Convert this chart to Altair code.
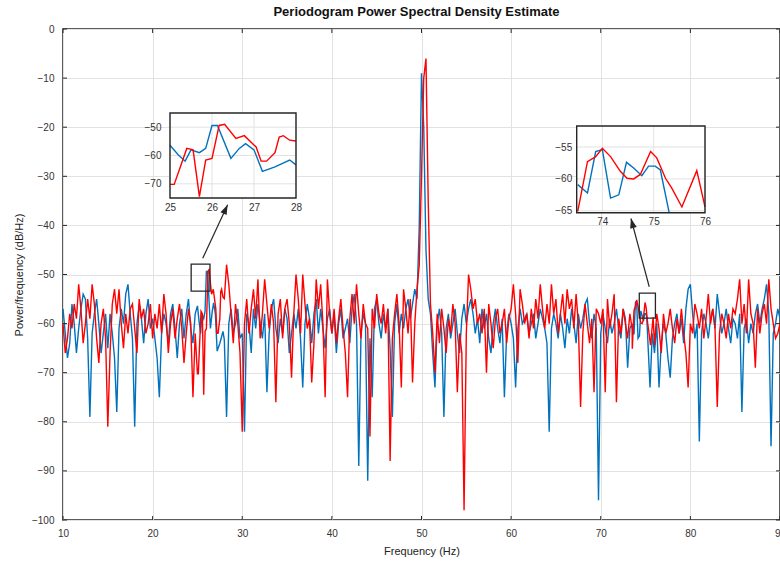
import altair as alt
import pandas as pd

# ---------------- data ----------------
F_START = 10.0
F_STEP = 0.25

blue_db = [
    -57, -62, -67, -64, -56, -60, -66, -61, -57, -54, -55, -63, -79, -62, -58, -55, -60, -66, -62, -58,
    -65, -58, -62, -67, -78, -61, -57, -60, -54, -52, -58, -63, -81, -60, -56, -59, -64, -58, -55, -61,
    -59, -63, -67, -75, -62, -58, -60, -64, -58, -56, -61, -67, -60, -57, -63, -58, -55, -61, -64, -58,
    -56, -60, -62, -58, -49, -55, -61, -57, -58, -65, -64, -62, -63, -79, -60, -57, -62, -60, -57, -63,
    -62, -82, -58, -60, -66, -57, -61, -56, -60, -63, -58, -74, -62, -57, -55, -61, -64, -59, -62, -57,
    -59, -66, -62, -58, -61, -57, -63, -73, -60, -56, -59, -64, -58, -55, -62, -57, -61, -65, -59, -57,
    -62, -58, -66, -60, -57, -63, -61, -59, -64, -57, -54, -60, -89, -62, -58, -60, -92, -63, -75, -57,
    -55, -60, -63, -58, -61, -57, -65, -79, -60, -56, -62, -58, -61, -57, -55, -59, -56, -53, -55, -40,
    -9, -20, -45, -55, -58, -66, -73, -60, -57, -62, -79, -61, -58, -63, -60, -57, -62, -66, -59, -56,
    -60, -57, -55, -58, -62, -59, -64, -57, -61, -58, -63, -66, -60, -57, -61, -64, -59, -75, -62, -58,
    -60, -63, -73, -61, -57, -60, -59, -58, -62, -60, -58, -63, -60, -57, -59, -61, -64, -82, -61, -58,
    -60, -63, -58, -61, -65, -59, -62, -57, -60, -64, -58, -61, -59, -56, -55, -60, -63, -58, -61, -96,
    -62, -58, -61, -64, -59, -62, -60, -57, -61, -63, -57, -59, -69, -61, -60, -58, -55, -63, -57, -59,
    -58, -64, -73, -62, -66, -60, -73, -64, -60, -62, -67, -71, -63, -60, -58, -62, -59, -64, -57, -53,
    -52, -58, -63, -60, -84, -62, -58, -60, -63, -59, -57, -61, -54, -58, -62, -60, -57, -61, -64, -59,
    -60, -63, -58, -78, -61, -59, -64, -60, -62, -58, -56, -60, -57, -55, -52, -58, -85, -62, -60, -57, -59,
]

red_db = [
    -60, -66, -63, -58, -61, -56, -59, -52, -57, -64, -60, -55, -59, -52, -56, -63, -68, -60, -57, -63,
    -81, -66, -56, -53, -58, -53, -60, -65, -58, -62, -57, -56, -61, -66, -55, -59, -57, -62, -60, -56,
    -63, -58, -61, -56, -62, -54, -58, -66, -60, -57, -63, -59, -56, -61, -68, -62, -57, -60, -75, -62,
    -70, -60, -58, -72, -61, -49, -54, -53, -57, -62, -59, -53, -55, -48, -52, -58, -64, -56, -60, -66,
    -82, -60, -55, -62, -57, -53, -59, -51, -63, -58, -51, -56, -61, -56, -60, -76, -58, -55, -63, -57,
    -55, -60, -71, -58, -50, -55, -62, -50, -56, -61, -59, -72, -64, -51, -57, -52, -60, -75, -51, -58,
    -62, -57, -64, -59, -55, -61, -66, -75, -59, -54, -60, -52, -58, -63, -56, -60, -61, -83, -57, -61,
    -54, -58, -60, -56, -62, -57, -88, -63, -58, -54, -60, -73, -53, -57, -62, -55, -72, -60, -53, -48,
    -30, -10, -6, -35, -56, -62, -70, -58, -64, -57, -61, -66, -59, -62, -56, -60, -74, -62, -66, -98,
    -62, -50, -53, -57, -55, -60, -58, -62, -57, -70, -56, -60, -65, -59, -57, -62, -60, -57, -64, -59,
    -57, -52, -58, -68, -53, -56, -60, -58, -63, -57, -61, -55, -59, -52, -57, -61, -56, -60, -52, -58,
    -55, -62, -58, -54, -60, -53, -57, -55, -61, -54, -60, -77, -62, -56, -60, -64, -59, -74, -57, -58,
    -60, -57, -74, -55, -61, -58, -54, -76, -59, -62, -57, -60, -63, -58, -61, -57, -55, -58, -60, -57,
    -56, -60, -64, -60, -64, -58, -61, -66, -58, -62, -60, -57, -61, -64, -59, -62, -57, -62, -66, -73,
    -60, -62, -56, -58, -61, -57, -63, -59, -54, -60, -57, -61, -77, -62, -58, -60, -63, -58, -61, -57,
    -58, -55, -51, -60, -56, -62, -51, -58, -60, -69, -57, -62, -58, -56, -60, -51, -57, -60, -63, -62, -60,
]

# inset 1 detail (25-28 Hz)
in1_blue_f = [25.0, 25.2, 25.36, 25.5, 25.7, 25.85, 26.0, 26.13, 26.45, 26.65, 26.8, 27.0, 27.2, 27.5, 27.85, 28.0]
in1_blue_db = [-56.4, -59.8, -62.0, -58.0, -59.0, -57.5, -49.4, -49.4, -61.0, -57.5, -55.8, -58.0, -65.6, -64.0, -61.6, -63.3]
in1_red_f = [25.0, 25.1, 25.4, 25.55, 25.7, 25.85, 26.0, 26.17, 26.3, 26.57, 26.77, 27.05, 27.17, 27.3, 27.5, 27.6, 27.7, 27.85, 28.0]
in1_red_db = [-70.2, -70.2, -57.5, -58.0, -74.5, -61.6, -61.0, -49.4, -49.0, -54.0, -53.0, -57.0, -62.0, -62.0, -59.0, -53.5, -53.0, -54.6, -54.9]

# inset 2 detail (73.5-76 Hz)
in2_blue_f = [73.52, 73.71, 73.87, 74.0, 74.16, 74.32, 74.47, 74.61, 74.77, 74.9, 75.03, 75.13, 75.3]
in2_blue_db = [-60.9, -62.2, -55.7, -55.4, -63.0, -62.5, -57.4, -58.3, -59.5, -58.0, -58.0, -58.6, -65.2]
in2_red_f = [73.52, 73.71, 73.87, 74.0, 74.16, 74.35, 74.48, 74.61, 74.74, 74.94, 75.06, 75.23, 75.35, 75.55, 75.84, 76.0]
in2_red_db = [-65.1, -57.3, -56.5, -55.2, -56.5, -58.8, -59.9, -60.0, -59.3, -55.7, -56.7, -59.9, -61.4, -64.4, -58.7, -64.4]

# annotation boxes and arrows (data coordinates)
box_f = [24.3, 74.3]
box_f2 = [26.4, 76.1]
box_db = [-53.4, -58.9]
box_db2 = [-47.9, -53.8]
arrow_f = [25.59, 75.41]
arrow_db = [-46.7, -52.5]
arrow_f2 = [28.37, 73.37]
arrow_db2 = [-35.8, -38.6]
arrow_angle = [25, 345]

x_ticks = [10, 20, 30, 40, 50, 60, 70, 80, 90]
y_ticks = [0, -10, -20, -30, -40, -50, -60, -70, -80, -90, -100]
in1_x_ticks = [25, 26, 27, 28]
in1_y_ticks = [-70, -60, -50]
in2_x_ticks = [74, 75, 76]
in2_y_ticks = [-65, -60, -55]

# ---------------- layout constants ----------------
W, H = 717, 491
FONT = "Liberation Sans"
AX = "#262626"
BLUE = "#0072BD"
RED = "#FF0000"
IN1 = dict(dom_x=[25, 28], dom_y=[-75, -45], px_x=[107, 233], px_y=[169, 84])
IN2 = dict(dom_x=[73.5, 76], dom_y=[-65.3, -51.7], px_x=[513.7, 642], px_y=[183.7, 97])


def merged(vals, det_f_list, det_v_list):
    ranges = [(min(fl), max(fl)) for fl in det_f_list]
    rows = []
    for i, v in enumerate(vals):
        f = F_START + F_STEP * i
        if any(lo <= f <= hi for lo, hi in ranges):
            continue
        rows.append((f, v))
    for fl, vl in zip(det_f_list, det_v_list):
        rows += list(zip(fl, vl))
    rows.sort()
    return pd.DataFrame(rows, columns=["f", "db"])


blue_df = merged(blue_db, [in1_blue_f, in2_blue_f], [in1_blue_db, in2_blue_db])
red_df = merged(red_db, [in1_red_f, in2_red_f], [in1_red_db, in2_red_db])

# ---------------- main panel ----------------
X_MAIN = alt.X(
    "f:Q",
    scale=alt.Scale(domain=[10, 90], nice=False, zero=False),
    axis=alt.Axis(values=x_ticks, title="Frequency (Hz)", grid=True, gridColor="#e2e2e2",
                  gridWidth=1, ticks=False, tickSize=0, domain=False, labelPadding=8,
                  labelFontSize=10, titleFontSize=11, titlePadding=7, labelFlush=False,
                  labelOverlap=False),
)
Y_MAIN = alt.Y(
    "db:Q",
    scale=alt.Scale(domain=[-100, 0], nice=False, zero=False),
    axis=alt.Axis(values=y_ticks, title="Power/frequency (dB/Hz)", grid=True, gridColor="#e2e2e2",
                  gridWidth=1, ticks=False, tickSize=0, domain=False, labelPadding=9,
                  labelFontSize=10, titleFontSize=11, titlePadding=7, labelFlush=False,
                  labelOverlap=False),
)

blue_line = alt.Chart(blue_df).mark_line(color=BLUE, strokeWidth=1.4).encode(x=X_MAIN, y=Y_MAIN)
red_line = alt.Chart(red_df).mark_line(color=RED, strokeWidth=1.4).encode(x=X_MAIN, y=Y_MAIN)

xt_df = pd.DataFrame({"f": x_ticks})
yt_df = pd.DataFrame({"db": y_ticks})
tick_b = alt.Chart(xt_df).mark_rule(color=AX, strokeWidth=1).encode(
    x=X_MAIN, y=alt.value(H), y2=alt.value(H - 4))
tick_t = alt.Chart(xt_df).mark_rule(color=AX, strokeWidth=1).encode(
    x=X_MAIN, y=alt.value(0), y2=alt.value(4))
tick_l = alt.Chart(yt_df).mark_rule(color=AX, strokeWidth=1).encode(
    y=Y_MAIN, x=alt.value(0), x2=alt.value(4))
tick_r = alt.Chart(yt_df).mark_rule(color=AX, strokeWidth=1).encode(
    y=Y_MAIN, x=alt.value(W), x2=alt.value(W - 4))

box_df = pd.DataFrame({"f": box_f, "f2": box_f2, "db": box_db, "db2": box_db2})
boxes = alt.Chart(box_df).mark_rect(fillOpacity=0, stroke=AX, strokeWidth=1.3).encode(
    x=X_MAIN, x2=alt.X2("f2:Q"), y=Y_MAIN, y2=alt.Y2("db2:Q"))

arr_df = pd.DataFrame({"f": arrow_f, "db": arrow_db, "f2": arrow_f2, "db2": arrow_db2,
                       "angle": arrow_angle})
arrow_lines = alt.Chart(arr_df).mark_rule(color=AX, strokeWidth=1.2).encode(
    x=X_MAIN, y=Y_MAIN, x2=alt.X2("f2:Q"), y2=alt.Y2("db2:Q"))
head_df = pd.DataFrame({"f": arrow_f2, "db": arrow_db2, "angle": arrow_angle})
arrow_heads = alt.Chart(head_df).mark_point(
    shape="M0,0L-0.35,1L0.35,1Z", filled=True, color=AX, opacity=1, size=380
).encode(x=X_MAIN, y=Y_MAIN, angle=alt.Angle("angle:Q", scale=None))

main = alt.layer(blue_line, red_line, tick_b, tick_t, tick_l, tick_r, boxes, arrow_lines, arrow_heads)


# ---------------- insets ----------------
def inset(cfg, bf, bv, rf, rv, xt, yt, ylabpad):
    X = alt.X("f:Q", scale=alt.Scale(domain=cfg["dom_x"], range=cfg["px_x"], nice=False, zero=False),
              axis=alt.Axis(orient="bottom", offset=cfg["px_y"][0] - H, values=xt, grid=False,
                            ticks=False, tickSize=0, domain=False, labelPadding=4, labelFontSize=10,
                            labelFlush=False, labelOverlap=False, title=None))
    Y = alt.Y("db:Q", scale=alt.Scale(domain=cfg["dom_y"], range=cfg["px_y"], nice=False, zero=False),
              axis=alt.Axis(orient="left", offset=-cfg["px_x"][0], values=yt, grid=False,
                            ticks=False, tickSize=0, domain=False, labelPadding=ylabpad,
                            labelFontSize=10, labelFlush=False, labelOverlap=False, title=None))
    frame_df = pd.DataFrame({"f": [cfg["dom_x"][0]], "f2": [cfg["dom_x"][1]],
                             "db": [cfg["dom_y"][0]], "db2": [cfg["dom_y"][1]]})
    bg = alt.Chart(frame_df).mark_rect(fill="white", strokeWidth=0).encode(
        x=X, x2=alt.X2("f2:Q"), y=Y, y2=alt.Y2("db2:Q"))
    vg_df = pd.DataFrame({"f": xt, "db": cfg["dom_y"][0], "db2": cfg["dom_y"][1]})
    hg_df = pd.DataFrame({"db": yt, "f": cfg["dom_x"][0], "f2": cfg["dom_x"][1]})
    vgrid = alt.Chart(vg_df).mark_rule(color="#e2e2e2", strokeWidth=1).encode(
        x=X, y=Y, y2=alt.Y2("db2:Q"))
    hgrid = alt.Chart(hg_df).mark_rule(color="#e2e2e2", strokeWidth=1).encode(
        y=Y, x=X, x2=alt.X2("f2:Q"))
    bl = alt.Chart(pd.DataFrame({"f": bf, "db": bv})).mark_line(color=BLUE, strokeWidth=1.4).encode(x=X, y=Y)
    rl = alt.Chart(pd.DataFrame({"f": rf, "db": rv})).mark_line(color=RED, strokeWidth=1.4).encode(x=X, y=Y)
    border = alt.Chart(frame_df).mark_rect(fillOpacity=0, stroke=AX, strokeWidth=1.4).encode(
        x=X, x2=alt.X2("f2:Q"), y=Y, y2=alt.Y2("db2:Q"))
    return alt.layer(bg, vgrid, hgrid, bl, rl, border)


inset1 = inset(IN1, in1_blue_f, in1_blue_db, in1_red_f, in1_red_db, in1_x_ticks, in1_y_ticks, 9)
inset2 = inset(IN2, in2_blue_f, in2_blue_db, in2_red_f, in2_red_db, in2_x_ticks, in2_y_ticks, 5)

chart = (
    alt.layer(main, inset1, inset2)
    .resolve_scale(x="independent", y="independent")
    .resolve_axis(x="independent", y="independent")
    .properties(
        width=W, height=H,
        autosize=alt.AutoSizeParams(type="none"),
        padding={"left": 63, "top": 29, "right": 0, "bottom": 41},
        background="white",
        title=alt.TitleParams("Periodogram Power Spectral Density Estimate", anchor="middle",
                              fontSize=13, fontWeight="bold", color="#111111", font=FONT,
                              offset=5, dx=-5),
    )
    .configure_view(stroke=AX, strokeWidth=1.5)
    .configure_axis(labelFont=FONT, titleFont=FONT, labelColor="#333333", titleColor="#222222",
                    titleFontWeight="normal")
)

chart.save("out.html", embed_options={"renderer": "svg", "actions": False})
